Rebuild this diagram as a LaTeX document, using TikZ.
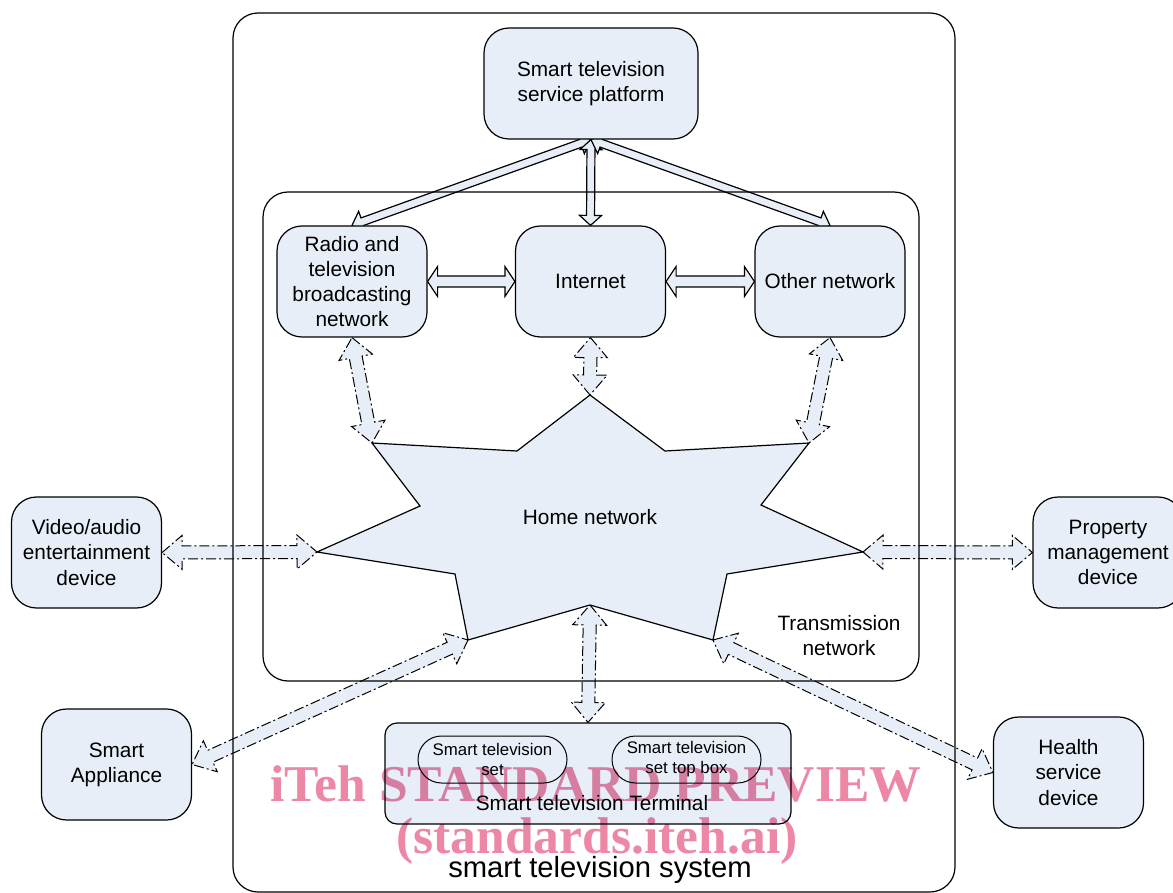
\documentclass[tikz,border=0pt]{standalone}
\usepackage{fontspec}
\setmainfont{Liberation Sans}
\newfontfamily\markfont{Liberation Serif}
\usetikzlibrary{calc, backgrounds}
\definecolor{boxfill}{RGB}{231,238,248}
\definecolor{markpink}{RGB}{236,136,166}
\newcommand{\boxfont}{\fontsize{10.4pt}{12.6pt}\selectfont}
\newcommand{\smallboxfont}{\fontsize{8.4pt}{10pt}\selectfont}
% block arrow with two heads: style, from, to, head length, head half width, shaft half width
\newcommand{\dblarrow}[6]{%
  \filldraw[#1] (#2)
    -- ($(#2)!#4!(#3)!#5!90:(#3)$)
    -- ($(#2)!#4!(#3)!#6!90:(#3)$)
    -- ($(#3)!#4!(#2)!#6!-90:(#2)$)
    -- ($(#3)!#4!(#2)!#5!-90:(#2)$)
    -- (#3)
    -- ($(#3)!#4!(#2)!#5!90:(#2)$)
    -- ($(#3)!#4!(#2)!#6!90:(#2)$)
    -- ($(#2)!#4!(#3)!#6!-90:(#3)$)
    -- ($(#2)!#4!(#3)!#5!-90:(#3)$)
    -- cycle;}

\begin{document}
\begin{tikzpicture}[
    x=0.5pt, y=-0.5pt,
    container/.style={
        rectangle,
        rounded corners=12.5pt,
        draw,
        line width=0.6pt,
        inner sep=0pt
    },
    netbox/.style={
        rectangle,
        rounded corners=12.5pt,
        draw,
        line width=0.6pt,
        fill=boxfill,
        minimum width=75pt,
        minimum height=55.5pt,
        align=center,
        inner sep=1pt,
        font=\boxfont
    },
    subbox/.style={
        rectangle,
        rounded corners=11.75pt,
        draw,
        line width=0.5pt,
        fill=boxfill,
        minimum width=74.5pt,
        minimum height=23.5pt,
        align=center,
        inner sep=0pt,
        font=\smallboxfont
    },
    plaintext/.style={align=center, inner sep=0pt, font=\boxfont},
    markstyle/.style={inner sep=0pt, text=markpink,
        font=\markfont\bfseries\fontsize{25.8pt}{30pt}\selectfont},
    homestar/.style={draw, fill=boxfill, line width=0.6pt, line join=miter},
    solidarrow/.style={draw, fill=boxfill, line width=0.6pt},
    dasharrow/.style={draw, fill=boxfill, line width=0.5pt,
        dash pattern=on 5pt off 1.5pt on 1pt off 1.5pt}
]
\useasboundingbox (0,0) rectangle (1173,893);

% outer frames
\node[container, minimum width=361pt, minimum height=439.5pt] (sys) at (594,452.5) {};
\node[container, minimum width=328pt, minimum height=244.5pt] (trans) at (591,436.5) {};

% boxes
\node[netbox, minimum width=107pt] (plat) at (591,83.5) {Smart television\\service platform};
\node[netbox] (radio) at (352,281.5) {Radio and\\television\\broadcasting\\network};
\node[netbox] (inet) at (590.5,281.5) {Internet};
\node[netbox] (other) at (830,281.5) {Other network};
\node[netbox] (video) at (86.5,552.5) {Video/audio\\entertainment\\device};
\node[netbox] (prop) at (1108,552.5) {Property\\management\\device};
\node[netbox] (appl) at (116.5,764.5) {Smart\\Appliance};
\node[netbox] (health) at (1068.5,772.5) {Health\\service\\device};

% terminal
\node[netbox, rounded corners=6pt, minimum width=203pt, minimum height=50.5pt] (term) at (588,773.5) {};
\node[subbox] (tvset) at (492.5,759.5) {Smart television\\set};
\node[subbox] (stb) at (686.5,759.5) {Smart television\\set top box};
\node[plaintext] (termlabel) at (592,803) {Smart television Terminal};

% home network star
\coordinate (s-t) at (590,395);
\coordinate (s-ur) at (809,443);
\coordinate (s-r) at (863,552);
\coordinate (s-lr) at (713,640);
\coordinate (s-b) at (590,605);
\coordinate (s-ll) at (468,640);
\coordinate (s-l) at (317,552);
\coordinate (s-ul) at (372,443);
\filldraw[homestar] (s-t) -- (665,451) -- (s-ur) -- (761,505) -- (s-r) -- (727,574)
    -- (s-lr) -- (s-b) -- (s-ll) -- (455,574) -- (s-l) -- (420,506) -- (s-ul)
    -- (517,451) -- cycle;
\node[plaintext] (homelabel) at (590,517) {Home network};

\node[plaintext] (translabel) at (839,635.5) {Transmission\\network};
\node[anchor=base, inner sep=0pt, font=\fontsize{14.6pt}{17pt}\selectfont] (syslabel) at (600,877) {smart television system};

% connectors
\begin{scope}[on background layer]
\dblarrow{solidarrow}{plat.south}{radio.north}{5.5pt}{5.5pt}{2pt}
\dblarrow{solidarrow}{plat.south}{inet.north}{5pt}{5.5pt}{2pt}
\dblarrow{solidarrow}{plat.south}{other.north}{5.5pt}{5.5pt}{2pt}
\dblarrow{solidarrow}{radio.east}{inet.west}{5pt}{7.5pt}{2.75pt}
\dblarrow{solidarrow}{inet.east}{other.west}{5pt}{7.5pt}{2.75pt}
\dblarrow{dasharrow}{radio.south}{s-ul}{10pt}{8.5pt}{3.25pt}
\dblarrow{dasharrow}{inet.south}{s-t}{10pt}{8.5pt}{3.25pt}
\dblarrow{dasharrow}{other.south}{s-ur}{10pt}{8.5pt}{3.25pt}
\dblarrow{dasharrow}{video.east}{s-l}{10pt}{8.5pt}{3.25pt}
\dblarrow{dasharrow}{s-r}{prop.west}{10pt}{8.5pt}{3.25pt}
\dblarrow{dasharrow}{s-ll}{appl.east}{10pt}{8.5pt}{3.25pt}
\dblarrow{dasharrow}{s-lr}{health.west}{10pt}{8.5pt}{3.25pt}
\dblarrow{dasharrow}{s-b}{term.north}{10pt}{8.5pt}{3.25pt}
\end{scope}

% watermark
\begin{scope}[blend mode=multiply]
\node[markstyle, anchor=base] (mark1) at (596,801) {iTeh STANDARD PREVIEW};
\node[markstyle, anchor=base] (mark2) at (597,853) {(standards.iteh.ai)};
\end{scope}
\end{tikzpicture}
\end{document}
